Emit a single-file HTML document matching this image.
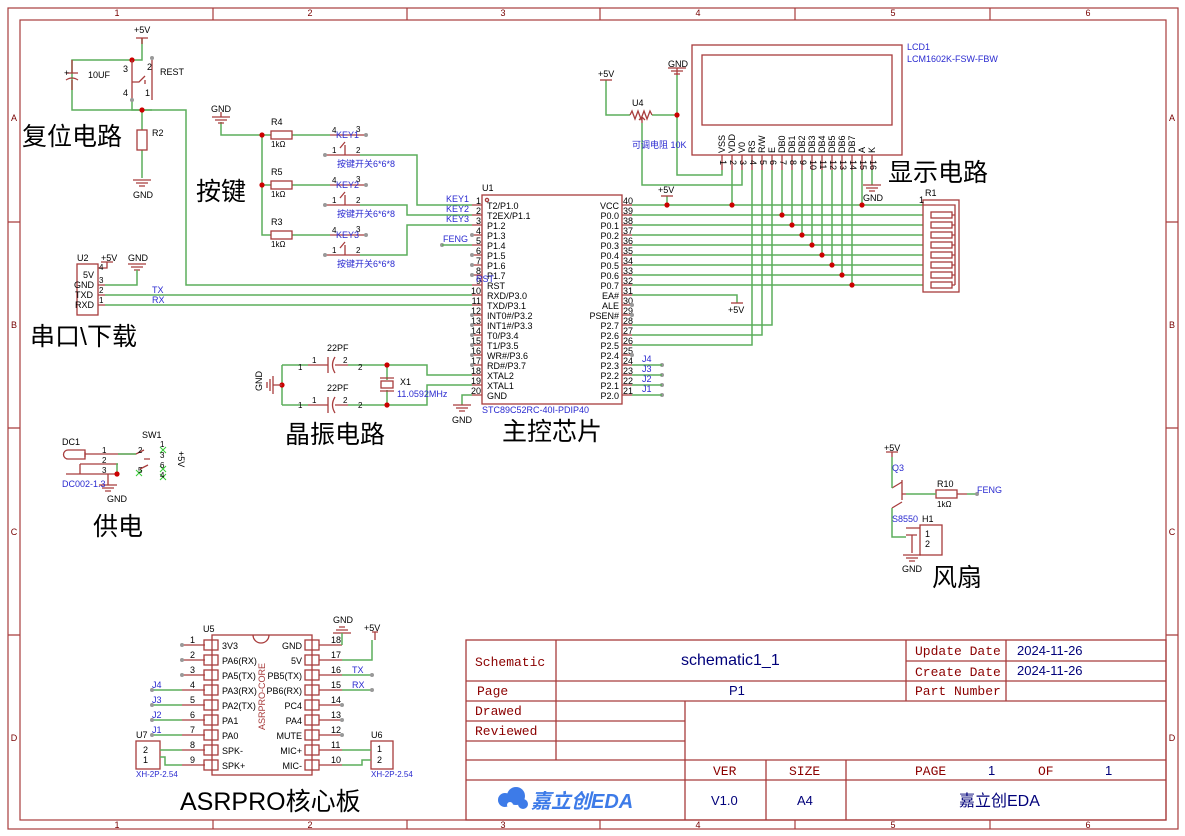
<!DOCTYPE html>
<html><head><meta charset="utf-8"><style>
body{margin:0;background:#fff}
svg{display:block;font-family:"Liberation Sans","Noto Sans CJK SC",sans-serif}
.w{stroke:#5cad5c;stroke-width:1.5;fill:none}
.c{stroke:#a83c3c;stroke-width:1.3;fill:none}
.t{font-size:9px;fill:#000}
.b{font-size:9px;fill:#2a2ad0}
.r{font-size:9px;fill:#700}
.big{font-size:25px;fill:#000;font-family:"Liberation Sans","Noto Sans CJK SC",sans-serif}
.tb{font-family:"Liberation Mono","DejaVu Sans Mono",monospace;font-size:13px;fill:#8b0000}
.tv{font-size:13px;fill:#00007a}
</style></head><body>
<svg width="1185" height="836" viewBox="0 0 1185 836" xmlns="http://www.w3.org/2000/svg">
<rect x="0" y="0" width="1185" height="836" fill="#fff"/>
<!-- frame -->
<g stroke="#a83c3c" fill="none" stroke-width="1.2">
<rect x="8" y="8" width="1170" height="821"/>
<rect x="20" y="20" width="1146" height="800"/>
<path d="M213 8V20M407 8V20M600 8V20M795 8V20M990 8V20M213 820V829M407 820V829M600 820V829M795 820V829M990 820V829"/>
<path d="M8 222H20M8 428H20M8 635H20M1166 222H1178M1166 428H1178M1166 635H1178"/>
</g>
<g class="r" font-size="8" text-anchor="middle">
<text x="117" y="16">1</text><text x="310" y="16">2</text><text x="503" y="16">3</text><text x="698" y="16">4</text><text x="893" y="16">5</text><text x="1088" y="16">6</text>
<text x="117" y="828">1</text><text x="310" y="828">2</text><text x="503" y="828">3</text><text x="698" y="828">4</text><text x="893" y="828">5</text><text x="1088" y="828">6</text>
<text x="14" y="121">A</text><text x="14" y="328">B</text><text x="14" y="535">C</text><text x="14" y="741">D</text>
<text x="1172" y="121">A</text><text x="1172" y="328">B</text><text x="1172" y="535">C</text><text x="1172" y="741">D</text>
</g>

<!-- U1 -->
<rect x="482" y="195" width="140" height="209" class="c" stroke-width="1.6"/>
<circle cx="487" cy="200" r="1.6" class="c"/>
<g class="c">
<path d="M472 205H482M472 215H482M472 225H482M472 235H482M472 245H482M472 255H482M472 265H482M472 275H482M472 285H482M472 295H482M472 305H482M472 315H482M472 325H482M472 335H482M472 345H482M472 355H482M472 365H482M472 375H482M472 385H482M472 395H482"/>
<path d="M622 205H632M622 215H632M622 225H632M622 235H632M622 245H632M622 255H632M622 265H632M622 275H632M622 285H632M622 295H632M622 305H632M622 315H632M622 325H632M622 335H632M622 345H632M622 355H632M622 365H632M622 375H632M622 385H632M622 395H632"/>
</g>
<g class="t">
<text x="487" y="209">T2/P1.0</text><text x="487" y="219">T2EX/P1.1</text><text x="487" y="229">P1.2</text><text x="487" y="239">P1.3</text><text x="487" y="249">P1.4</text><text x="487" y="259">P1.5</text><text x="487" y="269">P1.6</text><text x="487" y="279">P1.7</text><text x="487" y="289">RST</text><text x="487" y="299">RXD/P3.0</text><text x="487" y="309">TXD/P3.1</text><text x="487" y="319">INT0#/P3.2</text><text x="487" y="329">INT1#/P3.3</text><text x="487" y="339">T0/P3.4</text><text x="487" y="349">T1/P3.5</text><text x="487" y="359">WR#/P3.6</text><text x="487" y="369">RD#/P3.7</text><text x="487" y="379">XTAL2</text><text x="487" y="389">XTAL1</text><text x="487" y="399">GND</text>
</g>
<g class="t" text-anchor="end">
<text x="619" y="209">VCC</text><text x="619" y="219">P0.0</text><text x="619" y="229">P0.1</text><text x="619" y="239">P0.2</text><text x="619" y="249">P0.3</text><text x="619" y="259">P0.4</text><text x="619" y="269">P0.5</text><text x="619" y="279">P0.6</text><text x="619" y="289">P0.7</text><text x="619" y="299">EA#</text><text x="619" y="309">ALE</text><text x="619" y="319">PSEN#</text><text x="619" y="329">P2.7</text><text x="619" y="339">P2.6</text><text x="619" y="349">P2.5</text><text x="619" y="359">P2.4</text><text x="619" y="369">P2.3</text><text x="619" y="379">P2.2</text><text x="619" y="389">P2.1</text><text x="619" y="399">P2.0</text>
</g>
<g class="t" font-size="8" text-anchor="end">
<text x="481" y="204">1</text><text x="481" y="214">2</text><text x="481" y="224">3</text><text x="481" y="234">4</text><text x="481" y="244">5</text><text x="481" y="254">6</text><text x="481" y="264">7</text><text x="481" y="274">8</text><text x="481" y="284">9</text><text x="481" y="294">10</text><text x="481" y="304">11</text><text x="481" y="314">12</text><text x="481" y="324">13</text><text x="481" y="334">14</text><text x="481" y="344">15</text><text x="481" y="354">16</text><text x="481" y="364">17</text><text x="481" y="374">18</text><text x="481" y="384">19</text><text x="481" y="394">20</text>
</g>
<g class="t" font-size="8">
<text x="623" y="204">40</text><text x="623" y="214">39</text><text x="623" y="224">38</text><text x="623" y="234">37</text><text x="623" y="244">36</text><text x="623" y="254">35</text><text x="623" y="264">34</text><text x="623" y="274">33</text><text x="623" y="284">32</text><text x="623" y="294">31</text><text x="623" y="304">30</text><text x="623" y="314">29</text><text x="623" y="324">28</text><text x="623" y="334">27</text><text x="623" y="344">26</text><text x="623" y="354">25</text><text x="623" y="364">24</text><text x="623" y="374">23</text><text x="623" y="384">22</text><text x="623" y="394">21</text>
</g>
<text x="482" y="191" class="t">U1</text>
<text x="482" y="413" class="b">STC89C52RC-40I-PDIP40</text>
<g fill="#999">
<circle cx="472" cy="235" r="2"/><circle cx="472" cy="255" r="2"/><circle cx="472" cy="265" r="2"/><circle cx="472" cy="275" r="2"/>
<circle cx="472" cy="315" r="2"/><circle cx="472" cy="325" r="2"/><circle cx="472" cy="335" r="2"/><circle cx="472" cy="345" r="2"/><circle cx="472" cy="355" r="2"/><circle cx="472" cy="365" r="2"/>
<circle cx="632" cy="305" r="2"/><circle cx="632" cy="315" r="2"/><circle cx="632" cy="355" r="2"/>
<circle cx="662" cy="365" r="2"/><circle cx="662" cy="375" r="2"/><circle cx="662" cy="385" r="2"/><circle cx="662" cy="395" r="2"/>
<circle cx="442" cy="245" r="2"/>
</g>
<!-- right wires -->
<g class="w">
<path d="M632 205H923M632 215H923M632 225H923M632 235H923M632 245H923M632 255H923M632 265H923M632 275H923M632 285H923"/>
<path d="M632 295H737V303"/>
<path d="M632 325H772V170M632 335H762V170M632 345H752V170"/>
<path d="M782 170V215M792 170V225M802 170V235M812 170V245M822 170V255M832 170V265M842 170V275M852 170V285M862 170V205M872 170V185"/>
<path d="M722 170V175H677V75M732 170V205M742 170V185H642V123"/>
<path d="M606 80V115H630M652 115H677"/>
<path d="M667 196V205"/>
<path d="M632 365H662M632 375H662M632 385H662M632 395H662"/>
<path d="M442 245H472"/>
</g>
<g fill="#c00">
<circle cx="667" cy="205" r="2.6"/><circle cx="732" cy="205" r="2.6"/><circle cx="862" cy="205" r="2.6"/>
<circle cx="782" cy="215" r="2.6"/><circle cx="792" cy="225" r="2.6"/><circle cx="802" cy="235" r="2.6"/><circle cx="812" cy="245" r="2.6"/><circle cx="822" cy="255" r="2.6"/><circle cx="832" cy="265" r="2.6"/><circle cx="842" cy="275" r="2.6"/><circle cx="852" cy="285" r="2.6"/>
<circle cx="677" cy="115" r="2.6"/>
</g>
<g class="b"><text x="642" y="362">J4</text><text x="642" y="372">J3</text><text x="642" y="382">J2</text><text x="642" y="392">J1</text><text x="443" y="242">FENG</text>
<text x="446" y="202">KEY1</text><text x="446" y="212">KEY2</text><text x="446" y="222">KEY3</text><text x="476" y="282">RST</text></g>
<!-- +5V on VCC -->
<g class="c"><path d="M661 196H673"/><path d="M731 303H743"/></g>
<text x="658" y="193" class="t" fill="#000">+5V</text>
<text x="728" y="313" class="t">+5V</text>

<!-- LCD -->
<rect x="692" y="45" width="210" height="110" class="c"/>
<rect x="702" y="55" width="190" height="70" class="c"/>
<g class="c"><path d="M722 155V170M732 155V170M742 155V170M752 155V170M762 155V170M772 155V170M782 155V170M792 155V170M802 155V170M812 155V170M822 155V170M832 155V170M842 155V170M852 155V170M862 155V170M872 155V170"/></g>
<g class="t" font-size="8">
<text transform="translate(725,153) rotate(-90)">VSS</text><text transform="translate(735,153) rotate(-90)">VDD</text><text transform="translate(745,153) rotate(-90)">V0</text><text transform="translate(755,153) rotate(-90)">RS</text><text transform="translate(765,153) rotate(-90)">R/W</text><text transform="translate(775,153) rotate(-90)">E</text><text transform="translate(785,153) rotate(-90)">DB0</text><text transform="translate(795,153) rotate(-90)">DB1</text><text transform="translate(805,153) rotate(-90)">DB2</text><text transform="translate(815,153) rotate(-90)">DB3</text><text transform="translate(825,153) rotate(-90)">DB4</text><text transform="translate(835,153) rotate(-90)">DB5</text><text transform="translate(845,153) rotate(-90)">DB6</text><text transform="translate(855,153) rotate(-90)">DB7</text><text transform="translate(865,153) rotate(-90)">A</text><text transform="translate(875,153) rotate(-90)">K</text>
<text transform="translate(720,160) rotate(90)">1</text><text transform="translate(730,160) rotate(90)">2</text><text transform="translate(740,160) rotate(90)">3</text><text transform="translate(750,160) rotate(90)">4</text><text transform="translate(760,160) rotate(90)">5</text><text transform="translate(770,160) rotate(90)">6</text><text transform="translate(780,160) rotate(90)">7</text><text transform="translate(790,160) rotate(90)">8</text><text transform="translate(800,160) rotate(90)">9</text><text transform="translate(810,160) rotate(90)">10</text><text transform="translate(820,160) rotate(90)">11</text><text transform="translate(830,160) rotate(90)">12</text><text transform="translate(840,160) rotate(90)">13</text><text transform="translate(850,160) rotate(90)">14</text><text transform="translate(860,160) rotate(90)">15</text><text transform="translate(870,160) rotate(90)">16</text>
</g>
<text x="907" y="50" class="b" font-size="8">LCD1</text>
<text x="907" y="62" class="b" font-size="8">LCM1602K-FSW-FBW</text>
<!-- GND symbols -->
<g class="c">
<path d="M677 75V68M668 68H686M671 71H683M674 74H680"/>
<path d="M872 185H872M863 185H881M866 188H878M869 191H875"/>
<path d="M600 80H612"/>
<path d="M630 115l2-4 3 8 3-8 3 8 3-8 3 8 3-8 2 4" />
<path d="M642 123V117M639 120l3-3 3 3"/>
</g>
<text x="668" y="67" class="t">GND</text><text x="863" y="201" class="t">GND</text>
<text x="598" y="77" class="t">+5V</text>
<text x="632" y="106" class="t">U4</text>
<text x="632" y="148" class="b" font-size="8">可调电阻 10K</text>
<!-- R1 -->
<rect x="923" y="200" width="36" height="92" class="c"/>
<g class="c">
<rect x="931" y="212" width="21" height="6"/><rect x="931" y="222" width="21" height="6"/><rect x="931" y="232" width="21" height="6"/><rect x="931" y="242" width="21" height="6"/><rect x="931" y="252" width="21" height="6"/><rect x="931" y="262" width="21" height="6"/><rect x="931" y="272" width="21" height="6"/><rect x="931" y="282" width="21" height="6"/>
<path d="M923 205H955V285M952 215H955M952 225H955M952 235H955M952 245H955M952 255H955M952 265H955M952 275H955M952 285H955"/>
</g>
<text x="925" y="196" class="t">R1</text><text x="919" y="203" class="t" font-size="8">1</text>

<!-- Reset -->
<g class="w">
<path d="M142 38V60H72V110H186V285H472"/>
<path d="M142 110V130M142 150V178"/>
<path d="M132 100V110H152"/>
</g>
<g fill="#c00"><circle cx="132" cy="60" r="2.6"/><circle cx="142" cy="110" r="2.6"/></g>
<g class="c">
<path d="M136 38H148M142 38V44"/>
<path d="M66 73H78M66 80q6-4 12 0M72 60V73M72 80V90"/>
<path d="M132 60V100M152 60V100M132 82H139l6-6M145 84V80"/>
<rect x="137" y="130" width="10" height="20"/>
<path d="M133 180H151M136 183H148M139 186H145"/>
</g>
<text x="134" y="33" class="t">+5V</text><text x="88" y="78" class="t">10UF</text><text x="160" y="75" class="t">REST</text>
<text x="152" y="136" class="t">R2</text><text x="133" y="198" class="t">GND</text>
<g class="t" font-size="8"><text x="123" y="72">3</text><text x="147" y="70">2</text><text x="123" y="96">4</text><text x="145" y="96">1</text><text x="64" y="76">+</text></g>
<g fill="#999"><circle cx="132" cy="100" r="2"/><circle cx="152" cy="58" r="2"/></g>

<!-- Keys -->
<g class="w">
<path d="M221 122V135H271M262 135V235H271M262 185H271M292 135H330M292 185H330M292 235H330"/>
<path d="M360 155H417V205H472M360 205H407V215H472M360 255H407V225H472"/>
</g>
<g fill="#c00"><circle cx="262" cy="135" r="2.6"/><circle cx="262" cy="185" r="2.6"/></g>
<g class="c">
<path d="M212 117H230M215 120H227M218 123H224M221 112V117"/>
<rect x="271" y="131" width="21" height="8"/><rect x="271" y="181" width="21" height="8"/><rect x="271" y="231" width="21" height="8"/>
<path d="M330 135H366M325 155H360M340 148l5-6M345 145v10"/>
<path d="M330 185H366M325 205H360M340 198l5-6M345 195v10"/>
<path d="M330 235H366M325 255H360M340 248l5-6M345 245v10"/>
</g>
<g fill="#999"><circle cx="366" cy="135" r="2"/><circle cx="325" cy="155" r="2"/><circle cx="366" cy="185" r="2"/><circle cx="325" cy="205" r="2"/><circle cx="366" cy="235" r="2"/><circle cx="325" cy="255" r="2"/></g>
<g class="t">
<text x="211" y="112">GND</text>
<text x="271" y="125">R4</text><text x="271" y="147" font-size="8">1kΩ</text>
<text x="271" y="175">R5</text><text x="271" y="197" font-size="8">1kΩ</text>
<text x="271" y="225">R3</text><text x="271" y="247" font-size="8">1kΩ</text>
<text x="332" y="133" font-size="8">4</text><text x="356" y="132" font-size="8">3</text><text x="336" y="138" class="b">KEY1</text>
<text x="332" y="183" font-size="8">4</text><text x="356" y="182" font-size="8">3</text><text x="336" y="188" class="b">KEY2</text>
<text x="332" y="233" font-size="8">4</text><text x="356" y="232" font-size="8">3</text><text x="336" y="238" class="b">KEY3</text>
<text x="332" y="153" font-size="8">1</text><text x="356" y="153" font-size="8">2</text>
<text x="332" y="203" font-size="8">1</text><text x="356" y="203" font-size="8">2</text>
<text x="332" y="253" font-size="8">1</text><text x="356" y="253" font-size="8">2</text>
</g>
<g class="b" font-size="8"><text x="337" y="167">按键开关6*6*8</text><text x="337" y="217">按键开关6*6*8</text><text x="337" y="267">按键开关6*6*8</text></g>

<!-- U2 -->
<rect x="77" y="264" width="21" height="51" class="c"/>
<g class="c"><path d="M98 268H107V262M101 262H113M98 285H105M98 295H105M98 305H105M128 264H146M131 267H143M134 270H140"/></g>
<g class="w"><path d="M105 285H137V270M105 295H472M105 305H472"/></g>
<g class="t"><text x="77" y="261">U2</text><text x="101" y="261">+5V</text><text x="128" y="261">GND</text>
<text x="83" y="278">5V</text><text x="74" y="288">GND</text><text x="75" y="298">TXD</text><text x="75" y="308">RXD</text>
<text x="99" y="270" font-size="8">4</text><text x="99" y="283" font-size="8">3</text><text x="99" y="293" font-size="8">2</text><text x="99" y="303" font-size="8">1</text></g>
<g class="b"><text x="152" y="293">TX</text><text x="152" y="303">RX</text></g>

<!-- Crystal -->
<g class="w"><path d="M282 365V405M282 365H308M282 405H308M348 365H427V375H472M348 405H427V385H472M387 365V380M387 390V405M472 395H462V405"/></g>
<g fill="#c00"><circle cx="282" cy="385" r="2.6"/><circle cx="387" cy="365" r="2.6"/><circle cx="387" cy="405" r="2.6"/></g>
<g class="c">
<path d="M308 365H328M328 357V373M335 357q-5 8 0 16M335 365H348"/>
<path d="M308 405H328M328 397V413M335 397q-5 8 0 16M335 405H348"/>
<rect x="381" y="381" width="12" height="7"/><path d="M380 378H394M380 391H394"/>
<path d="M282 385H273M273 376V394M270 379V391M267 382V388"/>
<path d="M453 405H471M456 408H468M459 411H465"/>
</g>
<g class="t"><text x="327" y="351">22PF</text><text x="327" y="391">22PF</text>
<text x="312" y="363" font-size="8">1</text><text x="343" y="363" font-size="8">2</text><text x="312" y="403" font-size="8">1</text><text x="343" y="403" font-size="8">2</text>
<text x="298" y="370" font-size="8">1</text><text x="358" y="370" font-size="8">2</text><text x="298" y="408" font-size="8">1</text><text x="358" y="408" font-size="8">2</text>
<text x="400" y="385">X1</text><text transform="translate(262,391) rotate(-90)">GND</text><text x="452" y="423">GND</text></g>
<text x="397" y="397" class="b" font-size="8">11.0592MHz</text>

<!-- Power -->
<g class="c">
<path d="M68 450H85V459H68a4.5 4.5 0 0 1 0-9z"/><path d="M85 452V457M85 454H118M80 464H118M80 464V474M66 474H118"/>
<path d="M118 454H136l8-4M144 459H150M140 469l8-4"/>
<path d="M108 474V485M99 485H117M102 488H114M105 491H111"/>
</g>
<g class="w"><path d="M118 454H136M118 464H117V474"/></g>
<g fill="#c00"><circle cx="117" cy="474" r="2.6"/></g>
<g stroke="#3c3" stroke-width="1"><path d="M160 447l6 6M166 447l-6 6M160 466l6 6M166 466l-6 6M160 474l6 6M166 474l-6 6M136 470l6 6M142 470l-6 6"/></g>
<g class="t"><text x="62" y="445">DC1</text><text x="142" y="438">SW1</text><text x="102" y="453" font-size="8">1</text><text x="102" y="463" font-size="8">2</text><text x="102" y="473" font-size="8">3</text>
<text x="138" y="453" font-size="8">2</text><text x="138" y="473" font-size="8">5</text><text x="160" y="447" font-size="8">1</text><text x="160" y="458" font-size="8">3</text><text x="160" y="468" font-size="8">6</text><text x="160" y="478" font-size="8">4</text>
<text x="107" y="502">GND</text><text transform="translate(178,451) rotate(90)">+5V</text></g>
<text x="62" y="487" class="b" font-size="8">DC002-1.3</text>

<!-- Fan -->
<g class="c"><path d="M886 452H898M892 452V457M902 480V500M892 488l10-6M892 508l10-6M902 494H906M957 494H967M906 528H920M906 535H917M912 535V553M903 555H921M906 558H918M909 561H915"/>
<rect x="936" y="490" width="21" height="8"/><rect x="920" y="525" width="22" height="30"/></g>
<g class="w"><path d="M892 457V488M892 508V537H906M906 494H936M967 494H977"/></g>
<circle cx="977" cy="494" r="2" fill="#999"/>
<g class="t"><text x="884" y="451">+5V</text><text x="892" y="471" class="b">Q3</text><text x="892" y="522" class="b">S8550</text><text x="922" y="522">H1</text><text x="937" y="487">R10</text><text x="937" y="507" font-size="8">1kΩ</text><text x="925" y="537">1</text><text x="925" y="547">2</text><text x="902" y="572">GND</text></g>
<text x="977" y="493" class="b">FENG</text>

<!-- ASRPRO -->
<rect x="212" y="635" width="100" height="140" class="c"/>
<path d="M253 635a8 8 0 0 0 16 0" class="c"/>
<g class="c">
<path d="M182 645H205M182 660H205M182 675H205M182 690H205M182 705H205M182 720H205M182 735H205M182 750H205M182 765H205"/>
<path d="M319 645H342M319 660H342M319 675H342M319 690H342M319 705H342M319 720H342M319 735H342M319 750H342M319 765H342"/>
<rect x="204" y="640" width="14" height="10"/><rect x="204" y="655" width="14" height="10"/><rect x="204" y="670" width="14" height="10"/><rect x="204" y="685" width="14" height="10"/><rect x="204" y="700" width="14" height="10"/><rect x="204" y="715" width="14" height="10"/><rect x="204" y="730" width="14" height="10"/><rect x="204" y="745" width="14" height="10"/><rect x="204" y="760" width="14" height="10"/>
<rect x="305" y="640" width="14" height="10"/><rect x="305" y="655" width="14" height="10"/><rect x="305" y="670" width="14" height="10"/><rect x="305" y="685" width="14" height="10"/><rect x="305" y="700" width="14" height="10"/><rect x="305" y="715" width="14" height="10"/><rect x="305" y="730" width="14" height="10"/><rect x="305" y="745" width="14" height="10"/><rect x="305" y="760" width="14" height="10"/>
<path d="M333 633H351M336 630H348M339 627H345M372 632H378M375 632V640"/>
<rect x="136" y="741" width="24" height="28"/><rect x="371" y="741" width="22" height="28"/>
</g>
<g class="w"><path d="M152 690H182M152 705H182M152 720H182M152 735H182M160 750H182M160 757H165V765H182M342 645V633M342 660H372V640M342 675H372M342 690H372M342 750H371M342 765H362V760H371"/></g>
<g fill="#999"><circle cx="182" cy="645" r="2"/><circle cx="182" cy="660" r="2"/><circle cx="182" cy="675" r="2"/><circle cx="152" cy="690" r="2"/><circle cx="152" cy="705" r="2"/><circle cx="152" cy="720" r="2"/><circle cx="152" cy="735" r="2"/><circle cx="372" cy="675" r="2"/><circle cx="372" cy="690" r="2"/><circle cx="342" cy="705" r="2"/><circle cx="342" cy="720" r="2"/><circle cx="342" cy="735" r="2"/></g>
<g class="t">
<text x="222" y="649">3V3</text><text x="222" y="664">PA6(RX)</text><text x="222" y="679">PA5(TX)</text><text x="222" y="694">PA3(RX)</text><text x="222" y="709">PA2(TX)</text><text x="222" y="724">PA1</text><text x="222" y="739">PA0</text><text x="222" y="754">SPK-</text><text x="222" y="769">SPK+</text>
</g>
<g class="t" text-anchor="end">
<text x="302" y="649">GND</text><text x="302" y="664">5V</text><text x="302" y="679">PB5(TX)</text><text x="302" y="694">PB6(RX)</text><text x="302" y="709">PC4</text><text x="302" y="724">PA4</text><text x="302" y="739">MUTE</text><text x="302" y="754">MIC+</text><text x="302" y="769">MIC-</text>
</g>
<g class="t" font-size="8">
<text x="190" y="643">1</text><text x="190" y="658">2</text><text x="190" y="673">3</text><text x="190" y="688">4</text><text x="190" y="703">5</text><text x="190" y="718">6</text><text x="190" y="733">7</text><text x="190" y="748">8</text><text x="190" y="763">9</text>
<text x="331" y="643">18</text><text x="331" y="658">17</text><text x="331" y="673">16</text><text x="331" y="688">15</text><text x="331" y="703">14</text><text x="331" y="718">13</text><text x="331" y="733">12</text><text x="331" y="748">11</text><text x="331" y="763">10</text>
<text x="143" y="753">2</text><text x="143" y="763">1</text><text x="377" y="752">1</text><text x="377" y="763">2</text>
</g>
<text transform="translate(265,730) rotate(-90)" fill="#a83c3c" font-size="9">ASRPRO-CORE</text>
<g class="t"><text x="203" y="632">U5</text><text x="333" y="623">GND</text><text x="364" y="631">+5V</text><text x="136" y="738">U7</text><text x="371" y="738">U6</text></g>
<g class="b"><text x="152" y="688">J4</text><text x="152" y="703">J3</text><text x="152" y="718">J2</text><text x="152" y="733">J1</text><text x="352" y="673">TX</text><text x="352" y="688">RX</text>
<text x="136" y="777" font-size="8">XH-2P-2.54</text><text x="371" y="777" font-size="8">XH-2P-2.54</text></g>

<!-- titles -->
<g class="big">
<text x="22" y="145">复位电路</text><text x="196" y="200">按键</text><text x="30" y="345">串口\下载</text><text x="285" y="443">晶振电路</text><text x="502" y="440">主控芯片</text><text x="888" y="181">显示电路</text><text x="93" y="535">供电</text><text x="932" y="586">风扇</text><text x="180" y="810">ASRPRO核心板</text>
</g>

<!-- title block -->
<g stroke="#a83c3c" fill="none" stroke-width="1.3">
<rect x="466" y="640" width="700" height="180"/>
<path d="M466 681H1166M906 661H1166M466 701H1166M466 721H685M466 741H685M466 760H1166M466 780H1166"/>
<path d="M556 640V760M685 701V820M766 760V820M846 760V820M906 640V701M1006 640V701"/>
</g>
<g class="tb"><text x="475" y="666">Schematic</text><text x="477" y="695">Page</text><text x="475" y="715">Drawed</text><text x="475" y="735">Reviewed</text>
<text x="915" y="655">Update Date</text><text x="915" y="676">Create Date</text><text x="915" y="695">Part Number</text>
<text x="713" y="775">VER</text><text x="789" y="775">SIZE</text><text x="915" y="775">PAGE</text><text x="1038" y="775">OF</text></g>
<g class="tv"><text x="681" y="665" font-size="16">schematic1_1</text><text x="729" y="695">P1</text><text x="1017" y="655">2024-11-26</text><text x="1017" y="675">2024-11-26</text>
<text x="988" y="775">1</text><text x="1105" y="775">1</text><text x="711" y="805">V1.0</text><text x="797" y="805">A4</text><text x="959" y="806" font-size="16">嘉立创EDA</text></g>
<g fill="#3d7be8"><circle cx="505" cy="800" r="7"/><circle cx="516" cy="796" r="9"/><circle cx="523" cy="804" r="5"/></g>
<circle cx="510" cy="805" r="3" fill="#fff"/>
<text x="531" y="808" font-size="20" font-weight="bold" font-style="italic" fill="#3d7be8">嘉立创EDA</text>
</svg>
</body></html>
